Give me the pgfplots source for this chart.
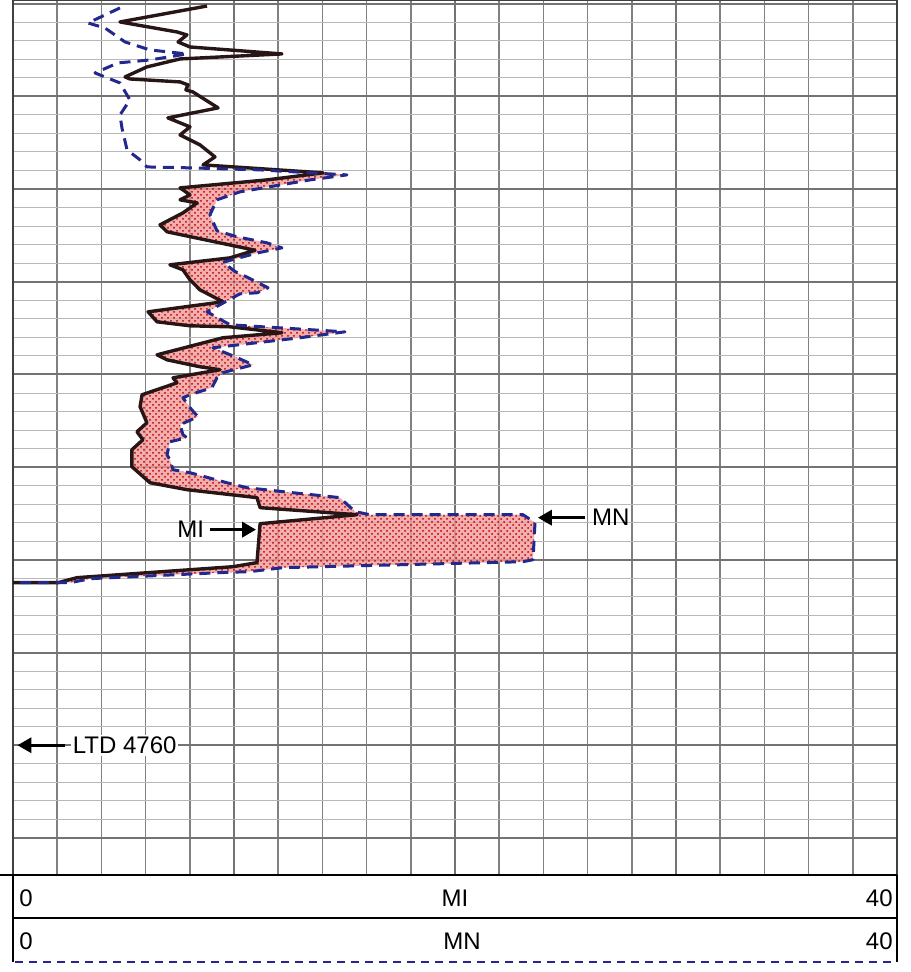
\documentclass[border=0pt]{standalone}
\usepackage{fontspec}
\setmainfont{Liberation Sans}
\usepackage{pgfplots}
\usepackage{pgfplotstable}
\pgfplotsset{compat=1.18}
\usetikzlibrary{patterns,arrows.meta}
\definecolor{mnblue}{RGB}{35,40,140}
\definecolor{miline}{RGB}{40,22,22}
\definecolor{fillpink}{RGB}{238,155,155}
\definecolor{gridv}{RGB}{115,115,115}

\pgfplotstableread{
x y
8.78 4680.25
4.84 4681.97
7.42 4683.05
7.87 4683.37
7.47 4684.13
8.01 4684.67
12.17 4685.42
7.56 4685.96
6.06 4686.82
5.07 4687.90
5.29 4688.12
7.56 4688.44
7.92 4688.76
7.82 4689.30
8.14 4689.52
9.28 4691.24
7.01 4692.32
8.01 4693.29
7.56 4694.16
8.46 4695.23
9.14 4696.53
8.60 4697.39
14.03 4698.25
11.49 4699.01
7.56 4699.87
8.01 4700.63
7.56 4701.16
8.33 4701.49
7.69 4702.57
6.65 4703.86
6.97 4704.61
10.95 4706.60
9.82 4707.42
7.10 4708.17
7.69 4708.71
8.01 4709.79
8.46 4710.87
9.50 4712.16
6.11 4713.24
6.52 4714.32
8.01 4714.75
9.82 4714.86
12.17 4715.50
9.50 4716.04
6.52 4717.88
6.97 4718.42
8.46 4719.17
9.37 4719.49
7.24 4720.36
7.42 4720.90
5.84 4722.19
5.75 4723.48
6.06 4725.21
5.61 4726.18
5.88 4727.04
5.38 4728.12
5.38 4729.95
6.20 4731.68
7.87 4732.43
11.04 4733.29
11.18 4734.37
15.57 4735.13
11.18 4736.10
11.04 4740.30
9.95 4740.74
2.90 4741.92
2.04 4742.46
0.00 4742.46
}\mitable

\pgfplotstableread{
x y
4.84 4680.46
3.39 4682.08
4.16 4682.62
5.07 4684.13
6.20 4684.99
7.87 4685.42
6.20 4686.07
4.75 4686.39
3.71 4687.47
4.84 4688.55
5.29 4690.38
4.84 4692.00
4.93 4693.40
5.16 4695.77
5.75 4696.85
6.06 4697.61
8.01 4697.71
11.18 4697.93
15.11 4698.47
13.44 4699.01
10.27 4700.30
9.23 4701.16
8.91 4702.78
9.23 4704.50
10.14 4705.15
11.49 4705.80
12.17 4706.34
11.04 4706.90
9.50 4707.90
10.05 4708.90
10.59 4709.50
11.54 4710.65
11.04 4711.19
10.27 4711.30
8.78 4713.24
9.82 4714.64
15.02 4715.40
12.99 4716.04
9.05 4717.12
10.05 4718.09
10.86 4718.96
9.50 4719.80
9.23 4720.36
9.00 4721.43
8.01 4722.19
7.69 4722.51
8.01 4723.59
8.37 4724.56
7.56 4725.42
7.69 4726.50
7.87 4726.83
7.10 4727.26
6.97 4728.66
7.10 4729.20
7.24 4730.28
8.01 4730.60
9.68 4731.68
10.59 4732.22
12.67 4732.76
14.80 4733.29
15.02 4733.80
15.48 4734.80
16.15 4735.13
23.08 4735.13
23.62 4735.99
23.53 4739.98
23.08 4740.20
12.22 4740.84
10.72 4741.27
9.37 4741.38
3.50 4742.03
2.60 4742.46
0.00 4742.46
}\mntable

% separation zone: MI from the first spike down, then MN back up
\pgfplotstableread{
x y
14.03 4698.25
11.49 4699.01
7.56 4699.87
8.01 4700.63
7.56 4701.16
8.33 4701.49
7.69 4702.57
6.65 4703.86
6.97 4704.61
10.95 4706.60
9.82 4707.42
7.10 4708.17
7.69 4708.71
8.01 4709.79
8.46 4710.87
9.50 4712.16
6.11 4713.24
6.52 4714.32
8.01 4714.75
9.82 4714.86
12.17 4715.50
9.50 4716.04
6.52 4717.88
6.97 4718.42
8.46 4719.17
9.37 4719.49
7.24 4720.36
7.42 4720.90
5.84 4722.19
5.75 4723.48
6.06 4725.21
5.61 4726.18
5.88 4727.04
5.38 4728.12
5.38 4729.95
6.20 4731.68
7.87 4732.43
11.04 4733.29
11.18 4734.37
15.57 4735.13
11.18 4736.10
11.04 4740.30
9.95 4740.74
2.90 4741.92
2.04 4742.46
0.00 4742.46
2.60 4742.46
3.50 4742.03
9.37 4741.38
10.72 4741.27
12.22 4740.84
23.08 4740.20
23.53 4739.98
23.62 4735.99
23.08 4735.13
16.15 4735.13
15.48 4734.80
15.02 4733.80
14.80 4733.29
12.67 4732.76
10.59 4732.22
9.68 4731.68
8.01 4730.60
7.24 4730.28
7.10 4729.20
6.97 4728.66
7.10 4727.26
7.87 4726.83
7.69 4726.50
7.56 4725.42
8.37 4724.56
8.01 4723.59
7.69 4722.51
8.01 4722.19
9.00 4721.43
9.23 4720.36
9.50 4719.80
10.86 4718.96
10.05 4718.09
9.05 4717.12
12.99 4716.04
15.02 4715.40
9.82 4714.64
8.78 4713.24
10.27 4711.30
11.04 4711.19
11.54 4710.65
10.59 4709.50
10.05 4708.90
9.50 4707.90
11.04 4706.90
12.17 4706.34
11.49 4705.80
10.14 4705.15
9.23 4704.50
8.91 4702.78
9.23 4701.16
10.27 4700.30
13.44 4699.01
15.11 4698.47
}\filltable

\begin{document}
\begin{tikzpicture}
\path[use as bounding box] (0,0) rectangle (455pt,486pt);
\begin{axis}[
  at={(6.5pt,48.5pt)}, anchor=south west,
  scale only axis, width=442pt, height=437.5pt,
  xmin=0, xmax=40, ymin=4679.6, ymax=4774, y dir=reverse,
  xtick={0,10,20,30,40}, minor x tick num=4,
  ytick={4680,4690,...,4770}, minor y tick num=4,
  xticklabels={}, yticklabels={},
  major tick length=0pt, minor tick length=0pt,
  grid=both,
  major x grid style={gridv, line width=1.1pt},
  minor x grid style={gridv!90, line width=0.8pt},
  major y grid style={black!55, line width=1pt},
  minor y grid style={black!28, line width=0.5pt},
  axis line style={black!75, line width=1pt},
]
\addplot[fill=fillpink, fill opacity=0.8, draw=none] table[x=x,y=y] {\filltable} -- cycle;
\addplot[pattern=crosshatch dots, pattern color=red!75!black, draw=none] table[x=x,y=y] {\filltable} -- cycle;
\addplot[draw=miline, line width=1.7pt, line join=round] table[x=x,y=y] {\mitable};
\addplot[draw=mnblue, line width=1.5pt, dash pattern=on 5.5pt off 3.5pt, line join=round] table[x=x,y=y] {\mntable};

\draw[line width=1.7pt, -{Triangle[length=7pt,width=7.5pt]}] (axis cs:8.9,4736.74) -- (axis cs:11.0,4736.74);
\node[anchor=east, font=\fontsize{12}{14}\selectfont, inner sep=1pt] at (axis cs:8.75,4736.74) {MI};
\draw[line width=1.7pt, -{Triangle[length=7pt,width=7.5pt]}] (axis cs:25.9,4735.45) -- (axis cs:23.75,4735.45);
\node[anchor=west, font=\fontsize{12}{14}\selectfont, inner sep=1pt] at (axis cs:26.1,4735.45) {MN};
\draw[line width=1.7pt, -{Triangle[length=7pt,width=7.5pt]}] (axis cs:2.35,4760) -- (axis cs:0.2,4760);
\node[anchor=west, fill=white, inner sep=1pt, font=\fontsize{12}{14}\selectfont] at (axis cs:2.6,4760) {LTD 4760};
\end{axis}

\begin{scope}[shift={(0pt,486pt)}, x=0.5pt, y=-0.5pt]
  \draw[line width=1.2pt] (0,875) -- (897,875);
  \draw[line width=1.2pt] (13,918) -- (897,918);
  \draw[line width=1pt] (13,875) -- (13,962);
  \draw[line width=1pt] (897,875) -- (897,962);
  \draw[mnblue, line width=1.2pt, dash pattern=on 4pt off 3pt] (15,962) -- (895,962);
  \begin{scope}[every node/.style={font=\fontsize{12}{14}\selectfont, inner sep=0pt}]
    \node[anchor=west] at (19,898) {0};
    \node at (455,898) {MI};
    \node[anchor=east] at (893,898) {40};
    \node[anchor=west] at (19,941) {0};
    \node at (462,941) {MN};
    \node[anchor=east] at (893,941) {40};
  \end{scope}
\end{scope}
\end{tikzpicture}
\end{document}
